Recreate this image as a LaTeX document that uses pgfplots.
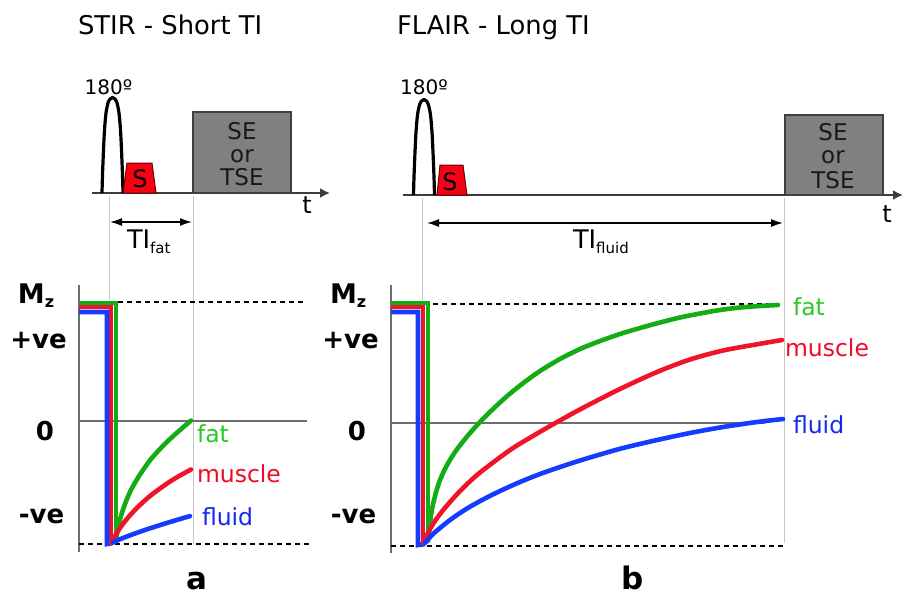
\documentclass[border=0pt]{standalone}
\usepackage{fontspec}
\setmainfont{DejaVu Sans}
\usepackage{pgfplots}
\pgfplotsset{compat=1.18}
\usetikzlibrary{arrows.meta}
\definecolor{cgreen}{RGB}{20,172,20}
\definecolor{cred}{RGB}{240,20,40}
\definecolor{cblue}{RGB}{20,60,255}
\definecolor{tgreen}{RGB}{40,200,40}
\definecolor{tred}{RGB}{240,10,40}
\definecolor{tblue}{RGB}{20,40,240}
\definecolor{axgray}{RGB}{110,110,110}
\definecolor{boxgray}{RGB}{128,128,128}
\definecolor{pulsegray}{RGB}{60,60,60}
\definecolor{redfill}{RGB}{250,0,20}
\newcommand{\fs}[1]{\fontsize{#1}{#1}\selectfont}
\tikzset{every node/.append style={inner sep=0pt, outer sep=0pt}}
\begin{document}
\begin{tikzpicture}
\begin{axis}[scale only axis, width=452pt, height=298pt,
  xmin=0, xmax=904, ymin=0, ymax=596, y dir=reverse,
  hide axis, clip=false]
\path (axis cs:0,0) rectangle (axis cs:904,596);

% ---------- titles ----------
\node[anchor=base west, font=\fs{12.9pt}] at (axis cs:78,34) {STIR - Short TI};
\node[anchor=base west, font=\fs{12.9pt}] at (axis cs:397,34) {FLAIR - Long TI};

% ---------- light vertical guides ----------
\addplot[gray!45, line width=0.5pt] coordinates {(109,196) (109,300)};
\addplot[gray!45, line width=0.5pt] coordinates {(193,196) (193,544)};
\addplot[gray!45, line width=0.5pt] coordinates {(422,198) (422,300)};
\addplot[gray!45, line width=0.5pt] coordinates {(784,198) (784,543)};

% ---------- pulse sequence (a) ----------
\addplot[pulsegray, line width=1pt, -{Latex[length=5pt,width=5pt]}] coordinates {(92,193) (330,193)};
\addplot[black, line width=1.6pt, smooth, tension=0.5] coordinates {(102,193)(102.5,175)(103.5,150)(104.5,130)(106,113)(108,103)(110,99)(112.5,97.5)(115,99)(117,103)(119,113)(120.5,130)(121.5,150)(122.5,175)(123,193)};
\addplot[fill=redfill, draw=red!40!black, line width=0.5pt] coordinates {(123,193)(127,163)(152,163)(156,193)(123,193)};
\node[anchor=base, font=\fs{12pt}] at (axis cs:140,187) {S};
\addplot[fill=boxgray, draw=black!75, line width=0.8pt, line join=miter] coordinates {(193,193)(193,112)(291,112)(291,193)(193,193)};
\node[anchor=base, font=\fs{11.5pt}, text=black!90] at (axis cs:242,139) {SE};
\node[anchor=base, font=\fs{11.5pt}, text=black!90] at (axis cs:242,162) {or};
\node[anchor=base, font=\fs{11.5pt}, text=black!90] at (axis cs:242,185) {TSE};
\node[anchor=base, font=\fs{10pt}] at (axis cs:108.5,94) {180º};
\node[anchor=base, font=\fs{12pt}] at (axis cs:307,213) {t};
\addplot[black, line width=0.75pt, {Latex[length=6pt,width=4pt]}-{Latex[length=6pt,width=4pt]}] coordinates {(110,222) (192,222)};
\node[anchor=base west, font=\fs{12.8pt}] at (axis cs:127,248) {TI\raisebox{-2.5pt}{\fs{7.5pt}fat}};

% ---------- pulse sequence (b) ----------
\addplot[pulsegray, line width=1pt, -{Latex[length=5pt,width=5pt]}] coordinates {(403,195) (903,195)};
\addplot[black, line width=1.6pt, smooth, tension=0.5] coordinates {(413.5,195)(414,177)(415,152)(416,132)(417.5,115)(419.5,105)(421.5,101)(424,99.5)(426.5,101)(428.5,105)(430.5,115)(432,132)(433,152)(434,177)(434.5,195)};
\addplot[fill=redfill, draw=red!40!black, line width=0.5pt] coordinates {(437,195)(440,165)(463,165)(467,195)(437,195)};
\node[anchor=base, font=\fs{12pt}] at (axis cs:450,190) {S};
\addplot[fill=boxgray, draw=black!75, line width=0.8pt, line join=miter] coordinates {(785,195)(785,115)(883,115)(883,195)(785,195)};
\node[anchor=base, font=\fs{11.5pt}, text=black!90] at (axis cs:833,140) {SE};
\node[anchor=base, font=\fs{11.5pt}, text=black!90] at (axis cs:833,163) {or};
\node[anchor=base, font=\fs{11.5pt}, text=black!90] at (axis cs:833,188) {TSE};
\node[anchor=base, font=\fs{10pt}] at (axis cs:424,94) {180º};
\node[anchor=base, font=\fs{12pt}] at (axis cs:887,222) {t};
\addplot[black, line width=0.75pt, {Latex[length=6pt,width=4pt]}-{Latex[length=6pt,width=4pt]}] coordinates {(427,223) (783,223)};
\node[anchor=base west, font=\fs{12.8pt}] at (axis cs:573,248) {TI\raisebox{-2.5pt}{\fs{7.5pt}fluid}};

% ---------- Mz plot (a) ----------
\addplot[axgray, line width=1pt] coordinates {(79,285) (79,552)};
\addplot[axgray, line width=0.8pt] coordinates {(79,421) (307,421)};
\addplot[black, line width=0.7pt, dash pattern=on 2.5pt off 2pt] coordinates {(118,302) (303,302)};
\addplot[black, line width=0.7pt, dash pattern=on 2.5pt off 2pt] coordinates {(79,544) (312,544)};
\addplot[cgreen, line width=2.3pt, line join=miter] coordinates {(79,303) (116,303) (116,541)};
\addplot[cred, line width=2.3pt, line join=miter] coordinates {(79,307) (111,307) (111,543)};
\addplot[cblue, line width=2.3pt, line join=miter] coordinates {(79,312) (107,312) (107,544) (113,543)};
\addplot[cgreen, line width=2.3pt, smooth, line cap=round] coordinates {(116,541)(118,528)(121,516)(125,504)(130,492)(136,481)(143,470)(151,459)(160,449)(170,439)(180,430)(191,420.5)};
\addplot[cred, line width=2.3pt, smooth, line cap=round] coordinates {(111,543)(115,536)(120,528)(126,520)(133,512)(141,504)(150,496)(160,488.5)(170,481.5)(180,475.5)(191,469.5)};
\addplot[cblue, line width=2.3pt, smooth, line cap=round] coordinates {(113,542.5)(120,539.2)(130,535.3)(140,531.7)(150,528.3)(160,525.1)(170,522.0)(180,519.0)(190,516.1)};
\node[anchor=base west, font=\fs{11.75pt}, text=tgreen] at (axis cs:197,442) {fat};
\node[anchor=base west, font=\fs{11.75pt}, text=tred] at (axis cs:197,482) {muscle};
\node[anchor=base west, font=\fs{11.75pt}, text=tblue] at (axis cs:202,525) {fluid};
\node[anchor=base west, font=\bfseries\fs{13.5pt}] at (axis cs:18,303) {M\raisebox{-2pt}{\fs{8pt}z}};
\node[anchor=base, font=\bfseries\fs{13pt}] at (axis cs:38.5,348) {+ve};
\node[anchor=base, font=\bfseries\fs{13pt}] at (axis cs:45,440) {0};
\node[anchor=base, font=\bfseries\fs{13pt}] at (axis cs:41.5,523) {-ve};
\node[anchor=base, font=\bfseries\fs{15.5pt}] at (axis cs:197,589) {a};

% ---------- Mz plot (b) ----------
\addplot[axgray, line width=1pt] coordinates {(391,285) (391,553)};
\addplot[axgray, line width=0.8pt] coordinates {(391,423) (765,423)};
\addplot[black, line width=0.7pt, dash pattern=on 2.5pt off 2pt] coordinates {(433,304) (777,304)};
\addplot[black, line width=0.7pt, dash pattern=on 2.5pt off 2pt] coordinates {(391,546) (783,546)};
\addplot[cgreen, line width=2.3pt, line join=miter] coordinates {(391,303) (428,303) (428,541)};
\addplot[cred, line width=2.3pt, line join=miter] coordinates {(391,307) (423,307) (423,543)};
\addplot[cblue, line width=2.3pt, line join=miter] coordinates {(391,312) (418,312) (418,545) (425,544)};
\addplot[cgreen, line width=2.3pt, smooth, line cap=round] coordinates {(428,541)(431,515)(435,496)(440,480)(446,467)(453,455)(461,444)(470,433)(480,422)(492,410)(506,397)(522,384)(540,371)(560,359)(580,349)(600,341)(620,334)(640,328)(660,322.5)(680,317.5)(700,313.5)(720,310)(740,307.5)(760,306)(778,305)};
\addplot[cred, line width=2.3pt, smooth, line cap=round] coordinates {(423,543)(428,533)(433,524)(440,514)(450,502)(462,489)(477,475)(495,461)(513,448)(532,436.5)(550,426)(577,411)(600,399)(623,387.5)(657,372)(690,359.5)(723,350.5)(757,344.3)(782,340)};
\addplot[cblue, line width=2.3pt, smooth, line cap=round] coordinates {(425,543)(433,534)(450,520)(467,508.5)(483,499.5)(500,491)(520,482)(540,474)(560,467)(580,460.5)(600,454.5)(623,448)(657,440)(690,433)(723,427)(757,422)(783,419)};
\node[anchor=base west, font=\fs{11.75pt}, text=tgreen] at (axis cs:793,315) {fat};
\node[anchor=base west, font=\fs{11.75pt}, text=tred] at (axis cs:785,356) {muscle};
\node[anchor=base west, font=\fs{11.75pt}, text=tblue] at (axis cs:793,433) {fluid};
\node[anchor=base west, font=\bfseries\fs{13.5pt}] at (axis cs:330,303) {M\raisebox{-2pt}{\fs{8pt}z}};
\node[anchor=base, font=\bfseries\fs{13pt}] at (axis cs:350.5,348) {+ve};
\node[anchor=base, font=\bfseries\fs{13pt}] at (axis cs:357,440) {0};
\node[anchor=base, font=\bfseries\fs{13pt}] at (axis cs:353.5,523) {-ve};
\node[anchor=base, font=\bfseries\fs{15.5pt}] at (axis cs:633,589) {b};
\end{axis}
\end{tikzpicture}
\end{document}
